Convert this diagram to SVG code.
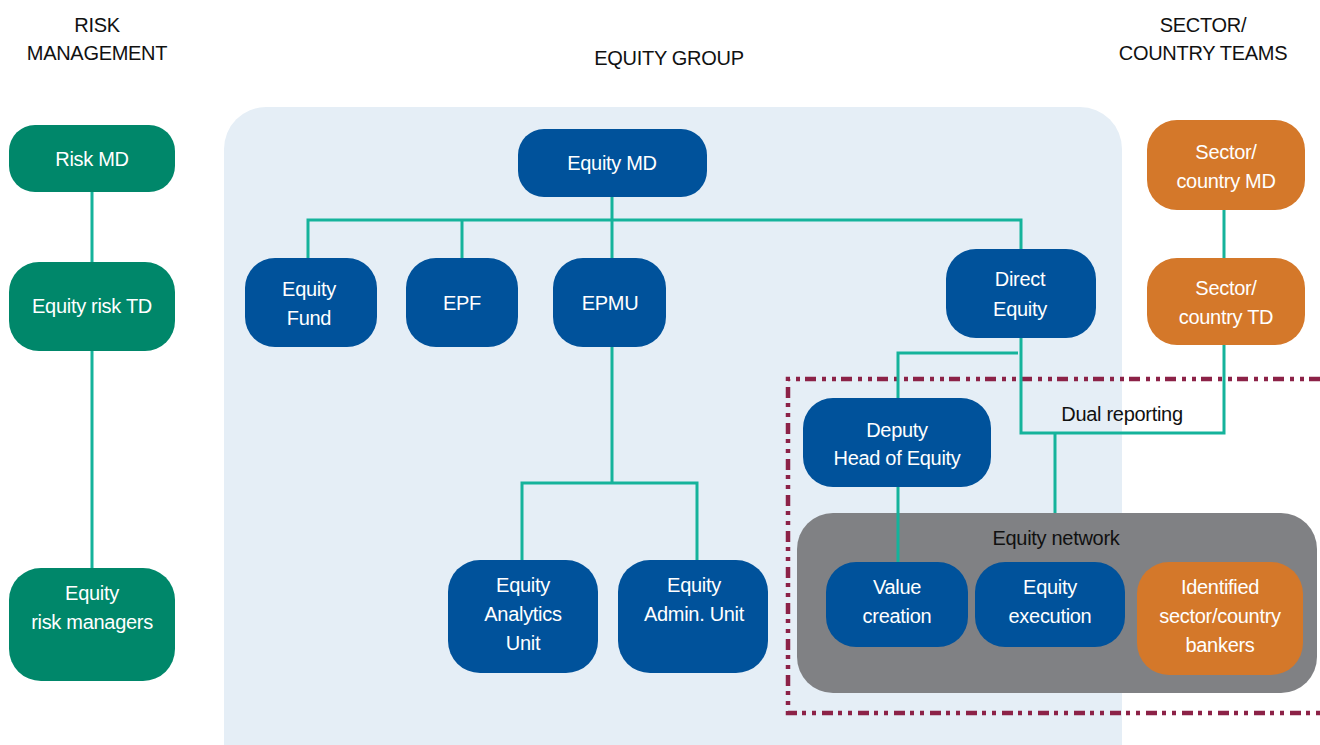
<svg xmlns="http://www.w3.org/2000/svg" width="1320" height="745" viewBox="0 0 1320 745">
<style>
.t{font-family:"Liberation Sans",Arial,sans-serif;font-size:20px;letter-spacing:-0.3px;text-anchor:middle}
.w{fill:#ffffff}
.k{fill:#111111}
.g{fill:#00876A}
.b{fill:#00529B}
.o{fill:#D4782A}
.ln{fill:none;stroke:#15B39B;stroke-width:3}
</style>
<rect width="1320" height="745" fill="#ffffff"/>
<rect id="equity-group-panel" x="224" y="107" width="898" height="680" rx="42" fill="#E5EEF6"/>
<g id="dual-area">
<path d="M1320,379 H788 V713 H1320" fill="none" stroke="#8C2247" stroke-width="4.5" stroke-dasharray="11 5 4 6 4 6"/>
</g>
<g id="equity-network">
<rect x="797" y="513" width="520" height="180" rx="36" fill="#808184"/>
<text class="t k" x="1056" y="545">Equity network</text>
</g>
<g id="connectors">
<path class="ln" d="M92,192 V568"/>
<path class="ln" d="M308,258 V220 H1021 V249 M462,220 V258 M612,197 V258"/>
<path class="ln" d="M612,347 V483 M522,560 V483 H697 V560"/>
<path class="ln" d="M1018,353 H898 V398 M898,487 V562"/>
<path class="ln" d="M1021,338 V433 H1224 V345 M1224,210 V258 M1055,433 V513"/>
</g>
<g id="headers">
<text class="t k" x="97" y="32">RISK</text>
<text class="t k" x="97" y="60">MANAGEMENT</text>
<text class="t k" x="669" y="65">EQUITY GROUP</text>
<text class="t k" x="1203" y="32">SECTOR/</text>
<text class="t k" x="1203" y="60">COUNTRY TEAMS</text>
<text class="t k" x="1122" y="421">Dual reporting</text>
</g>
<g id="risk-md"><rect class="g" x="9" y="125" width="166" height="67" rx="26"/><text class="t w" x="92" y="166">Risk MD</text></g>
<g id="equity-risk-td"><rect class="g" x="9" y="262" width="166" height="89" rx="30"/><text class="t w" x="92" y="313">Equity risk TD</text></g>
<g id="equity-risk-managers"><rect class="g" x="9" y="568" width="166" height="113" rx="32"/><text class="t w" x="92" y="600">Equity</text><text class="t w" x="92" y="629">risk managers</text></g>
<g id="equity-md"><rect class="b" x="518" y="129" width="189" height="68" rx="26"/><text class="t w" x="612" y="170">Equity MD</text></g>
<g id="equity-fund"><rect class="b" x="245" y="258" width="132" height="89" rx="30"/><text class="t w" x="309" y="296">Equity</text><text class="t w" x="309" y="325">Fund</text></g>
<g id="epf"><rect class="b" x="406" y="258" width="112" height="89" rx="30"/><text class="t w" x="462" y="310">EPF</text></g>
<g id="epmu"><rect class="b" x="553" y="258" width="113" height="89" rx="30"/><text class="t w" x="610" y="310">EPMU</text></g>
<g id="direct-equity"><rect class="b" x="946" y="249" width="150" height="89" rx="30"/><text class="t w" x="1020" y="286">Direct</text><text class="t w" x="1020" y="316">Equity</text></g>
<g id="equity-analytics-unit"><rect class="b" x="448" y="560" width="150" height="113" rx="32"/><text class="t w" x="523" y="592">Equity</text><text class="t w" x="523" y="621">Analytics</text><text class="t w" x="523" y="650">Unit</text></g>
<g id="equity-admin-unit"><rect class="b" x="618" y="560" width="150" height="113" rx="32"/><text class="t w" x="694" y="592">Equity</text><text class="t w" x="694" y="621">Admin. Unit</text></g>
<g id="deputy-head"><rect class="b" x="803" y="398" width="188" height="89" rx="30"/><text class="t w" x="897" y="437">Deputy</text><text class="t w" x="897" y="465">Head of Equity</text></g>
<g id="value-creation"><rect class="b" x="826" y="562" width="142" height="85" rx="30"/><text class="t w" x="897" y="594">Value</text><text class="t w" x="897" y="623">creation</text></g>
<g id="equity-execution"><rect class="b" x="975" y="562" width="150" height="85" rx="30"/><text class="t w" x="1050" y="594">Equity</text><text class="t w" x="1050" y="623">execution</text></g>
<g id="identified-bankers"><rect class="o" x="1137" y="562" width="166" height="113" rx="32"/><text class="t w" x="1220" y="594">Identified</text><text class="t w" x="1220" y="623">sector/country</text><text class="t w" x="1220" y="652">bankers</text></g>
<g id="sector-country-md"><rect class="o" x="1147" y="120" width="158" height="90" rx="30"/><text class="t w" x="1226" y="159">Sector/</text><text class="t w" x="1226" y="188">country MD</text></g>
<g id="sector-country-td"><rect class="o" x="1147" y="258" width="158" height="87" rx="30"/><text class="t w" x="1226" y="295">Sector/</text><text class="t w" x="1226" y="324">country TD</text></g>
</svg>
